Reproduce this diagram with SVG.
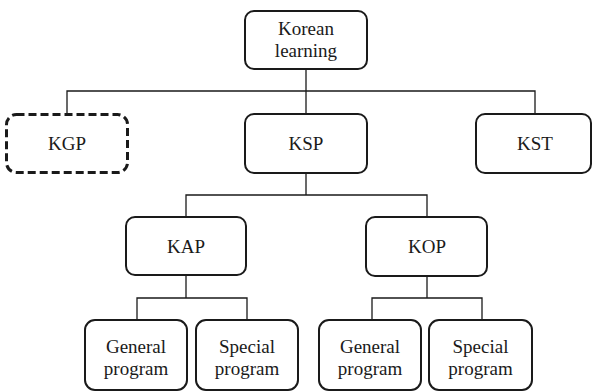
<svg xmlns="http://www.w3.org/2000/svg" width="592" height="392" viewBox="0 0 592 392">
<style>
.box{fill:#fff;stroke:#1a1a1a;stroke-width:2}
.dash{fill:#fff;stroke:#1a1a1a;stroke-width:3;stroke-dasharray:8 4}
.lbl{font-size:19px;fill:#1a1a1a;text-anchor:middle}
.conn{fill:none;stroke:#1a1a1a;stroke-width:1.3}
</style>
<rect width="592" height="392" fill="#fff"/>
<g id="connectors">
<path class="conn" d="M306 69V114M67 114V91H535V114"/>
<path class="conn" d="M306 173V195M186 217V195H427V217"/>
<path class="conn" d="M186 275V298M137 320V298H247V320"/>
<path class="conn" d="M427 276V298M372 320V298H482V320"/>
</g>
<g id="nodes" font-family="Liberation Serif, DejaVu Serif, serif">
<g id="root"><rect class="box" x="245" y="11" width="122" height="58" rx="9"/><text class="lbl" x="306" y="35">Korean</text><text class="lbl" x="306" y="57">learning</text></g>
<g id="kgp"><rect class="dash" x="6.5" y="114.5" width="121" height="58" rx="10"/><text class="lbl" x="67" y="150">KGP</text></g>
<g id="ksp"><rect class="box" x="245" y="114" width="122" height="59" rx="9"/><text class="lbl" x="306" y="150">KSP</text></g>
<g id="kst"><rect class="box" x="476" y="114" width="115" height="59" rx="9"/><text class="lbl" x="535" y="150">KST</text></g>
<g id="kap"><rect class="box" x="126" y="217" width="120" height="58" rx="9"/><text class="lbl" x="186" y="253">KAP</text></g>
<g id="kop"><rect class="box" x="366" y="217" width="121" height="59" rx="9"/><text class="lbl" x="427" y="253">KOP</text></g>
<g id="kap-general"><rect class="box" x="85" y="320" width="102" height="70" rx="10"/><text class="lbl" x="136" y="353">General</text><text class="lbl" x="136" y="375">program</text></g>
<g id="kap-special"><rect class="box" x="196" y="320" width="102" height="70" rx="10"/><text class="lbl" x="247" y="353">Special</text><text class="lbl" x="247" y="375">program</text></g>
<g id="kop-general"><rect class="box" x="319" y="320" width="102" height="70" rx="10"/><text class="lbl" x="370" y="353">General</text><text class="lbl" x="370" y="375">program</text></g>
<g id="kop-special"><rect class="box" x="429" y="320" width="103" height="70" rx="10"/><text class="lbl" x="480.5" y="353">Special</text><text class="lbl" x="480.5" y="375">program</text></g>
</g>
</svg>
